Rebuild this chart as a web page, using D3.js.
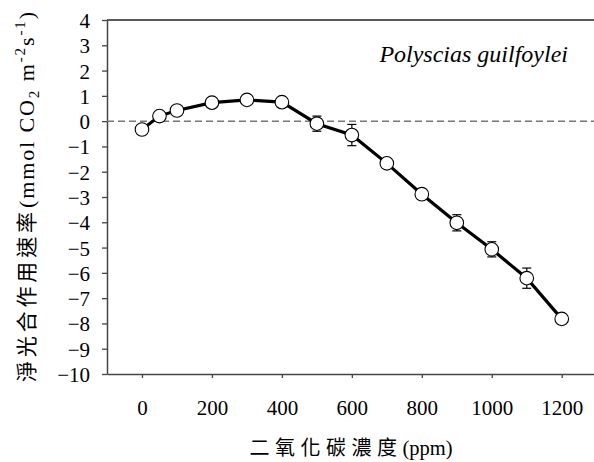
<!DOCTYPE html>
<html><head><meta charset="utf-8">
<script src="https://cdn.jsdelivr.net/npm/d3@7"></script>
<style>
html,body{margin:0;padding:0;background:#fff;}
svg{display:block;}
.serif{font-family:"Liberation Serif","Tinos","Times New Roman","Times","Noto Serif","DejaVu Serif","Noto Serif CJK TC","FreeSerif",serif;}
.cjk{font-family:"Noto Sans CJK TC","Noto Sans CJK SC",sans-serif;}
</style></head>
<body>
<svg id="chart" width="594" height="462"></svg>
<script>
// ---- data ----
const co2 = [0, 50, 100, 200, 300, 400, 500, 600, 700, 800, 900, 1000, 1100, 1200];
const netRate = [-0.33, 0.2, 0.42, 0.73, 0.84, 0.75, -0.1, -0.55, -1.67, -2.89, -4.02, -5.07, -6.21, -7.82];
const errVals = [0.05, 0.05, 0.05, 0.05, 0.05, 0.05, 0.3, 0.42, 0.15, 0.2, 0.32, 0.3, 0.4, 0.2];
const xTicks = [0, 200, 400, 600, 800, 1000, 1200];
const yTicks = [4, 3, 2, 1, 0, -1, -2, -3, -4, -5, -6, -7, -8, -9, -10];
const speciesName = "Polyscias guilfoylei";
const xTitle = ["二氧化碳濃度", "(ppm)"];
const yTitleCJK = "淨光合作用速率";

const svg = d3.select("#chart");
const mL = 107, mR = 596.7, mT = 20, mB = 374;
const x = d3.scaleLinear().domain([-100, 1300]).range([mL, mR]);
const y = d3.scaleLinear().domain([-10, 4]).range([mB, mT]);

// top border
svg.append("line").attr("x1", mL).attr("x2", 594).attr("y1", mT).attr("y2", mT)
  .attr("stroke", "#222").attr("stroke-width", 1.3);

// y axis
const yAxis = svg.append("g").attr("transform", `translate(${mL},0)`)
  .call(d3.axisLeft(y).tickValues(yTicks).tickSize(5).tickSizeOuter(0).tickFormat(d3.format("d")));
yAxis.attr("font-family", null);
yAxis.select(".domain").attr("stroke", "#444").attr("stroke-width", 1.5);
yAxis.selectAll(".tick line").attr("stroke", "#444").attr("stroke-width", 1.3);
yAxis.selectAll(".tick text").attr("class", "serif").attr("font-size", 21)
  .attr("fill", "#000").attr("x", -17).attr("dy", "0.36em");

// x axis
const xAxis = svg.append("g").attr("transform", `translate(0,${mB})`)
  .call(d3.axisBottom(x).tickValues(xTicks).tickSize(4).tickSizeOuter(0).tickFormat(d3.format("d")));
xAxis.attr("font-family", null);
xAxis.select(".domain").attr("stroke", "#444").attr("stroke-width", 1.5);
xAxis.selectAll(".tick line").attr("stroke", "#444").attr("stroke-width", 1.3);
xAxis.selectAll(".tick text").attr("class", "serif").attr("font-size", 21)
  .attr("fill", "#000").attr("y", 41).attr("dy", 0);

// zero dashed line
svg.append("line").attr("x1", mL).attr("x2", 594).attr("y1", y(0)).attr("y2", y(0))
  .attr("stroke", "#777").attr("stroke-width", 1.5).attr("stroke-dasharray", "7,4");

const pts = co2.map((c, i) => ({c, v: netRate[i], e: errVals[i]}));

// error bars
const eb = svg.append("g").attr("stroke", "#000").attr("stroke-width", 1.2);
pts.forEach(p => {
  eb.append("line").attr("x1", x(p.c)).attr("x2", x(p.c)).attr("y1", y(p.v + p.e)).attr("y2", y(p.v - p.e));
  [p.v + p.e, p.v - p.e].forEach(v => {
    eb.append("line").attr("x1", x(p.c) - 4.5).attr("x2", x(p.c) + 4.5).attr("y1", y(v)).attr("y2", y(v));
  });
});

// line
svg.append("path").datum(pts)
  .attr("d", d3.line().x(d => x(d.c)).y(d => y(d.v)))
  .attr("fill", "none").attr("stroke", "#000").attr("stroke-width", 3.2);

// markers
svg.append("g").selectAll("circle").data(pts).join("circle")
  .attr("cx", d => x(d.c)).attr("cy", d => y(d.v)).attr("r", 6.8)
  .attr("fill", "#fff").attr("stroke", "#000").attr("stroke-width", 1.1);

// species label
svg.append("text").attr("class", "serif").attr("x", 568).attr("y", 62).attr("text-anchor", "end")
  .attr("font-style", "italic").attr("font-size", 24)
  .text(speciesName);

// x title
const xt = svg.append("text").attr("class", "serif").attr("x", 351).attr("y", 455).attr("text-anchor", "middle")
  .attr("font-size", 20.5);
xt.append("tspan").attr("class", "cjk").attr("font-size", 20).attr("letter-spacing", 5.5).text(xTitle[0]);
xt.append("tspan").text(xTitle[1]);

// y title (rotated group; local x runs bottom->top)
const yg = svg.append("g").attr("transform", "translate(34,196) rotate(-90)");
yg.append("text").attr("class", "cjk").attr("x", -186).attr("y", 0)
  .attr("font-size", 21).attr("textLength", 170).attr("lengthAdjust", "spacing")
  .text(yTitleCJK);
const yl = yg.append("text").attr("class", "serif").attr("x", -12).attr("y", 0)
  .attr("font-size", 22).attr("textLength", 196).attr("lengthAdjust", "spacing");
yl.append("tspan").text("(mmol CO");
yl.append("tspan").attr("font-size", 15).attr("dy", 5).text("2");
yl.append("tspan").attr("dy", -5).text(" m");
yl.append("tspan").attr("font-size", 15).attr("dy", -9).text("-2");
yl.append("tspan").attr("dy", 9).text("s");
yl.append("tspan").attr("font-size", 15).attr("dy", -9).text("-1");
yl.append("tspan").attr("dy", 9).text(")");
</script>
</body></html>
